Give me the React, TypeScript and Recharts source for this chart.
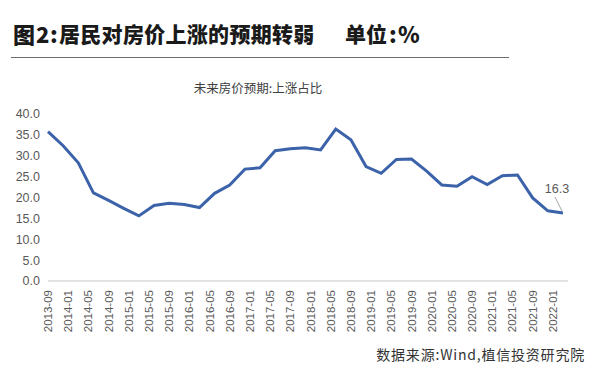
import { LineChart, Line, XAxis, YAxis, LabelList } from 'recharts';

// Quarterly survey: months since 2013-09
const months = [0, 3, 6, 9, 12, 15, 18, 21, 24, 27, 30, 33, 36, 39, 42, 45, 48, 51, 54, 57, 60, 63, 66, 69, 72, 75, 78, 81, 84, 87, 90, 93, 96, 99, 102];
const riseShare = [
  35.8, 32.4, 28.3, 21.1, 19.3, 17.4, 15.6, 18.1, 18.6, 18.3, 17.6, 21.0, 23.0, 26.8, 27.1, 31.2, 31.7,
  31.9, 31.4, 36.4, 33.8, 27.4, 25.8, 29.1, 29.2, 26.3, 23.0, 22.7, 25.0, 23.1, 25.2, 25.4, 19.9, 16.8, 16.3,
];
const xTicks = [0, 4, 8, 12, 16, 20, 24, 28, 32, 36, 40, 44, 48, 52, 56, 60, 64, 68, 72, 76, 80, 84, 88, 92, 96, 100];
const yTicks = [0, 5, 10, 15, 20, 25, 30, 35, 40];

const data = months.map((m, i) => ({ m, v: riseShare[i] }));

const LINE = '#3C63A9';
const AXIS_TEXT = '#595959';
const NUM_FONT = '"Liberation Sans", Arial, sans-serif';
const CJK_FONT = '"Noto Sans CJK SC", "Noto Sans", sans-serif';

const monthLabel = (m: number) => {
  const total = 2013 * 12 + 8 + m;
  const y = Math.floor(total / 12);
  const mo = (total % 12) + 1;
  return `${y}-${String(mo).padStart(2, '0')}`;
};

const XTick = (props: any) => {
  const { x, y, payload } = props;
  return (
    <g transform={`translate(${x},${y + 7})`}>
      <text
        transform="rotate(-90)"
        textAnchor="end"
        dy="0.35em"
        fontSize={11.5}
        fontFamily={NUM_FONT}
        fill={AXIS_TEXT}
      >
        {monthLabel(payload.value)}
      </text>
    </g>
  );
};

const LastLabel = (props: any) => {
  const { x, y, index, value } = props;
  if (index !== data.length - 1) return null;
  return (
    <g>
      <line x1={x - 8} y1={y - 16} x2={x - 1} y2={y - 2} stroke="#A6A6A6" strokeWidth={1} />
      <text x={x - 6} y={y - 20} textAnchor="middle" fontSize={12.5} fontFamily={NUM_FONT} fill={AXIS_TEXT}>
        {value}
      </text>
    </g>
  );
};

const titleStyle = {
  position: 'absolute' as const,
  top: 18,
  fontFamily: CJK_FONT,
  fontWeight: 900,
  fontSize: 21,
  color: '#1a1a1a',
  whiteSpace: 'nowrap' as const,
  lineHeight: '30px',
};

export default function App() {
  return (
    <div style={{ position: 'absolute', left: 0, top: 0, width: 600, height: 370, background: '#fff', overflow: 'hidden' }}>
      <div style={{ ...titleStyle, left: 13, fontSize: 22 }}>图</div>
      <div style={{ ...titleStyle, left: 36, fontSize: 22 }}>2</div>
      <div style={{ ...titleStyle, left: 50, fontSize: 22 }}>:</div>
      <div style={{ ...titleStyle, left: 59, letterSpacing: 0.3 }}>居民对房价上涨的预期转弱</div>
      <div style={{ ...titleStyle, left: 345 }}>单位</div>
      <div style={{ ...titleStyle, left: 389, fontSize: 22 }}>:</div>
      <div style={{ ...titleStyle, left: 398, fontSize: 22 }}>%</div>
      <div style={{ position: 'absolute', left: 11, top: 57, width: 498, height: 0, borderTop: '1.5px solid #6b6b6b' }} />
      <div style={{ position: 'absolute', left: 0, width: 516, top: 78, textAlign: 'center', fontFamily: CJK_FONT, fontSize: 12.5, color: '#404040', lineHeight: '20px' }}>
        未来房价预期:上涨占比
      </div>
      <LineChart width={600} height={370} data={data} margin={{ top: 114, right: 32, bottom: 39, left: 0 }}>
        <XAxis
          dataKey="m"
          type="number"
          domain={[0, 103]}
          ticks={xTicks}
          interval={0}
          tick={<XTick />}
          tickLine={false}
          tickSize={0}
          height={50}
          axisLine={{ stroke: '#D9D9D9', strokeWidth: 1.5 }}
        />
        <YAxis
          type="number"
          domain={[0, 40]}
          ticks={yTicks}
          width={48}
          tickLine={false}
          tickSize={0}
          tickMargin={8}
          axisLine={false}
          tickFormatter={(v: number) => v.toFixed(1)}
          tick={{ fontSize: 12.5, fontFamily: NUM_FONT, fill: AXIS_TEXT }}
        />
        <Line
          dataKey="v"
          type="linear"
          stroke={LINE}
          strokeWidth={3}
          dot={false}
          isAnimationActive={false}
        >
          <LabelList dataKey="v" content={<LastLabel />} />
        </Line>
      </LineChart>
      <div style={{ position: 'absolute', right: 15, top: 344, fontFamily: CJK_FONT, fontSize: 14, color: '#333', whiteSpace: 'nowrap', lineHeight: '20px', letterSpacing: 0.8 }}>
        数据来源:Wind,植信投资研究院
      </div>
    </div>
  );
}
